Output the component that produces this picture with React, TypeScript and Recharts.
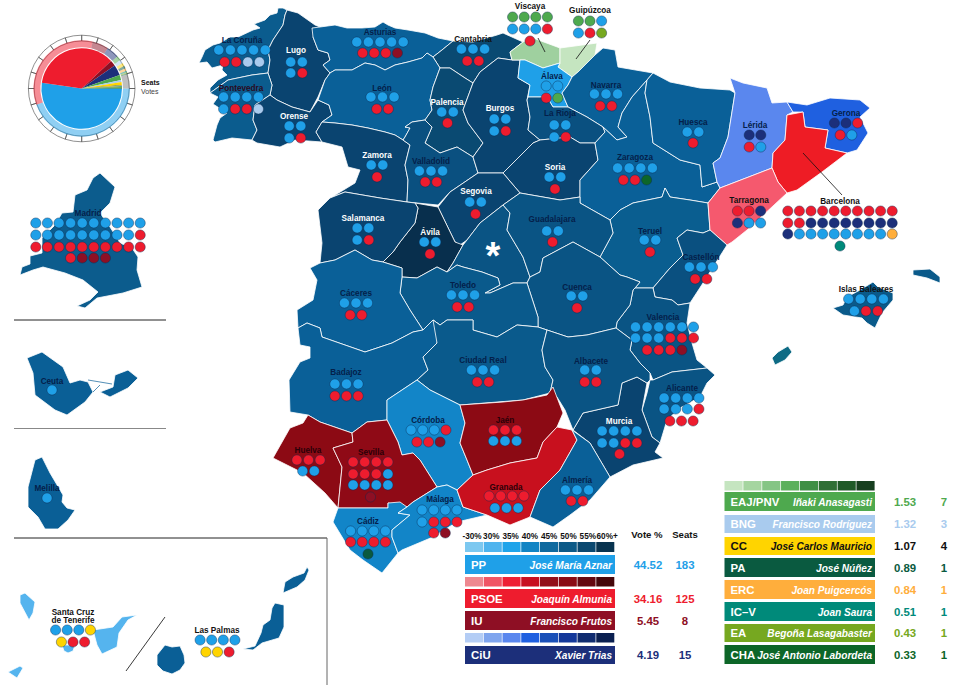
import React from "react";
import { ScatterChart, Scatter, XAxis, YAxis, PieChart, Pie, Cell } from "recharts";

const W = 960;
const H = 698;
const FONT = "'Liberation Sans', Arial, sans-serif";

// ---- parties ----
const partyCodes = ["PP", "PSOE", "IU", "CiU", "EAJ/PNV", "BNG", "CC", "PA", "ERC", "IC–V", "EA", "CHA"];
const partyLeaders = ["José María Aznar", "Joaquín Almunia", "Francisco Frutos", "Xavier Trias", "Iñaki Anasagasti", "Francisco Rodríguez", "José Carlos Mauricio", "José Núñez", "Joan Puigcercós", "Joan Saura", "Begoña Lasagabaster", "José Antonio Labordeta"];
const partyVotes = [44.52, 34.16, 5.45, 4.19, 1.53, 1.32, 1.07, 0.89, 0.84, 0.51, 0.43, 0.33];
const partySeats = [183, 125, 8, 15, 7, 3, 4, 1, 1, 1, 1, 1];
const partyColors = ["#1fa0e8", "#ee1c2e", "#8e0f24", "#1c2f7a", "#4ea94e", "#a9cbee", "#ffd400", "#0a5a40", "#ffae3c", "#008a7a", "#76a820", "#0d6628"];
const otherVotes = 4.76;
const tickSlices = [1, 1, 1, 1, 1, 1, 1, 1, 1, 1, 1, 1, 1, 1, 1, 1, 1, 1, 1, 1];

const rampLabels = ["-30%", "30%", "35%", "40%", "45%", "50%", "55%", "60%+"];
const rampPP = ["#7cc8f0", "#4fb4ee", "#1fa4ea", "#1184c4", "#0f6a9f", "#0c5a88", "#0a4870", "#08334f"];
const rampPSOE = ["#ee8890", "#f05565", "#ee2035", "#c80f20", "#930f1a", "#8a0a14", "#650810", "#45060a"];
const rampCiU = ["#b4cdf5", "#7fa5ee", "#5a87ee", "#1f60e0", "#1a50b8", "#14389a", "#102c70", "#0a1f50"];
const rampEAJ = ["#c5e5c0", "#a5d5a0", "#85c585", "#5cb05c", "#3f8f45", "#2f6f35", "#1f5a28", "#173f1f"];

// ---- provinces: name, fill, outline in map units ----
type Prov = [string, string, string];
const galicia: Prov[] = [
  ["La Coruña", "#0b5c8e", "287,10 283,8 278,8 277,13 270,15 265,20 254,24 260,28 253,30 238,37 230,37 220,43 213,45 205,50 202,57 199,63 207,62 212,68 223,65 222,70 227,75 218,80 210,88 210,93 228,80 252,75 268,73 270,60 268,50 273,40 283,25 285,15"],
  ["Lugo", "#0a4470", "287,10 298,13 315,25 320,27 313,37 318,50 328,53 330,60 323,65 330,73 325,80 318,97 310,112 292,107 277,100 270,95 272,85 268,73 270,60 268,50 273,40 283,25 285,15"],
  ["Pontevedra", "#0b5c8e", "210,93 228,80 252,75 268,73 272,85 270,95 255,105 253,120 257,130 252,140 232,138 215,142 213,140 217,125 220,118 227,113 213,104 218,97"],
  ["Orense", "#0a4470", "270,95 277,100 292,107 310,112 318,100 329,105 332,115 322,122 316,132 322,142 295,140 280,147 257,143 252,140 257,130 253,120 255,105"],
];
const north: Prov[] = [
  ["Asturias", "#0a6098", "312,28 320,27 335,25 347,28 362,28 375,27 383,22 388,25 395,28 408,30 425,33 438,38 453,41 442,50 433,57 427,53 422,58 408,62 395,65 385,70 375,65 365,63 352,70 335,70 330,73 323,65 330,60 328,53 318,50 313,37"],
  ["Cantabria", "#0a4a72", "453,41 473,42 497,35 503,33 523,42 510,52 512,60 498,58 480,72 473,83 465,78 450,68 440,68 433,57 442,50"],
  ["León", "#0a6098", "330,73 335,70 352,70 365,63 375,65 385,70 395,65 408,62 422,58 427,53 433,57 440,68 433,87 430,100 432,110 425,120 412,122 405,127 410,128 405,137 403,140 395,135 385,132 368,128 352,125 335,123 322,122 332,115 329,105 318,100 325,80"],
  ["Palencia", "#0a4a72", "440,68 450,68 465,78 473,83 463,110 468,123 483,143 473,157 457,147 440,153 425,143 432,127 425,120 432,110 430,100 433,87"],
  ["Zamora", "#0a4470", "322,122 335,123 352,125 368,128 385,132 395,135 403,140 410,145 405,165 408,180 407,202 380,198 345,192 332,197 355,183 360,170 348,167 342,147 322,142 316,132"],
  ["Valladolid", "#0a5080", "412,122 425,120 432,127 425,143 440,153 457,147 473,157 478,173 453,190 450,192 438,205 417,203 407,202 408,180 405,165 410,145 403,140 405,137 410,128 405,127"],
  ["Burgos", "#0a4470", "480,72 498,58 512,60 520,60 518,78 530,85 527,100 530,117 528,130 540,140 533,143 503,173 478,173 473,157 483,143 468,123 463,110 473,83"],
  ["Vizcaya", "#9fd09f", "510,52 523,42 533,38 560,48 560,63 543,68 525,60 512,60"],
  ["Guipúzcoa", "#c5e5c0", "560,48 597,43 595,55 578,72 572,77 558,67 560,63"],
  ["Álava", "#1fa0e8", "525,60 543,68 560,63 558,67 572,77 568,85 562,93 568,107 553,107 547,97 528,97 530,85 518,78 520,60"],
  ["Navarra", "#0a6098", "572,77 578,72 595,55 603,48 615,50 618,67 653,73 647,80 632,97 622,113 618,127 627,137 617,140 603,127 587,117 568,107 562,93 568,85"],
  ["La Rioja", "#0a5080", "528,97 547,97 553,107 568,107 587,117 603,127 605,132 595,143 580,143 570,137 540,140 528,130 530,117 527,100"],
  ["Soria", "#0a4470", "540,140 570,137 580,143 595,143 598,160 580,180 580,197 560,200 520,193 503,173 533,143"],
  ["Segovia", "#0a4470", "450,192 453,190 478,173 503,173 520,193 503,205 480,223 467,240 460,245 455,242 438,207"],
  ["Ávila", "#082f4d", "415,203 438,207 455,242 463,245 453,263 447,272 437,267 417,278 402,277 402,268 383,262 393,252 400,242 415,223 418,208"],
  ["Salamanca", "#0a4470", "345,192 380,198 407,202 415,203 418,208 415,223 400,242 393,252 383,262 372,260 355,250 335,260 320,263 322,243 318,210 330,198"],
];
const east: Prov[] = [
  ["Zaragoza", "#0a6098", "603,127 617,140 627,137 618,127 622,113 632,97 647,80 645,93 650,117 653,143 680,160 700,165 702,187 717,182 720,188 708,203 690,200 670,197 665,188 662,197 633,203 620,210 610,220 580,203 580,180 598,160 595,143 605,132"],
  ["Huesca", "#0a6098", "647,80 653,73 670,82 700,88 730,90 735,93 728,137 720,158 713,163 717,182 702,187 700,165 680,160 653,143 650,117 645,93"],
  ["Teruel", "#0a5e90", "610,220 620,210 633,203 662,197 665,188 670,197 690,200 708,203 710,230 703,233 687,230 677,238 683,255 670,268 653,288 635,288 640,282 627,277 620,275 600,257 613,233"],
  ["Lérida", "#5a87ee", "730,78 743,83 767,88 772,103 787,102 793,112 787,115 785,140 773,153 772,168 720,188 717,182 713,163 720,158 728,137 735,93"],
  ["Gerona", "#1f60e0", "787,102 807,105 830,98 860,100 870,108 860,117 868,133 857,150 847,153 825,148 828,130 805,127 803,112 793,112"],
  ["Barcelona", "#ee1c25", "787,115 803,112 805,127 828,130 825,148 847,153 822,172 797,190 787,193 778,182 772,168 773,153 785,140"],
  ["Tarragona", "#f5596e", "720,188 772,168 778,182 787,193 747,230 732,242 727,245 710,230 708,203"],
  ["Castellón", "#0a5080", "677,238 687,230 703,233 710,230 727,245 703,283 690,303 678,305 672,300 655,297 653,288 670,268 683,255"],
  ["Valencia", "#0a5484", "635,288 653,288 655,297 672,300 678,305 690,303 687,323 692,343 697,360 707,368 672,372 653,380 650,373 640,363 630,350 632,340 616,328 617,322 630,305 633,290"],
  ["Alicante", "#0a5484", "707,368 715,375 707,383 700,397 680,408 667,420 660,443 652,437 642,410 647,393 650,380 653,380 672,372"],
  ["Murcia", "#0a4470", "622,383 637,377 647,383 642,410 652,437 660,443 655,452 663,458 633,465 610,477 590,443 573,430 583,413 618,405"],
];
const centre: Prov[] = [
  ["Madrid", "#0a5484", "503,205 510,213 507,230 523,257 530,277 527,283 513,283 490,293 485,293 500,285 498,278 482,272 463,267 457,265 447,272 453,263 463,245 467,240 480,223"],
  ["Guadalajara", "#0a5484", "503,205 520,193 560,200 580,197 580,203 610,220 613,233 600,257 573,242 558,250 543,258 540,272 530,277 523,257 507,230 510,213"],
  ["Cuenca", "#0a5484", "530,277 540,272 543,258 558,250 573,242 600,257 620,275 627,277 640,282 635,288 633,290 630,305 617,322 616,328 587,335 568,337 547,330 538,327 538,317 527,283"],
  ["Toledo", "#0a5a8c", "402,277 417,278 437,267 447,272 457,265 463,267 482,272 498,278 500,285 485,293 490,293 513,283 527,283 538,317 538,327 517,325 497,337 473,330 473,320 447,320 440,325 433,320 423,330 410,310 400,293"],
  ["Cáceres", "#0a6098", "310,268 320,263 335,260 355,250 372,260 383,262 402,268 402,277 400,293 410,310 423,330 413,332 392,343 365,352 322,337 320,328 307,323 298,328 297,310 313,300 317,280"],
  ["Badajoz", "#0a6098", "298,328 307,323 320,328 322,337 365,352 392,343 413,332 423,330 433,320 440,325 437,343 423,357 428,370 417,380 387,400 387,420 367,422 352,433 320,422 308,415 290,412 289,380 300,362 310,358 310,347 300,345"],
  ["Ciudad Real", "#0a5a8c", "433,320 440,325 447,320 473,320 473,330 497,337 517,325 538,327 547,330 542,350 545,367 553,380 550,393 523,400 460,405 430,390 417,380 428,370 423,357 437,343"],
  ["Albacete", "#0a5484", "547,330 568,337 587,335 616,328 632,340 630,350 640,363 650,373 650,380 647,383 637,377 622,383 618,405 583,413 573,430 565,410 557,397 550,393 553,380 545,367 542,350"],
];
const south: Prov[] = [
  ["Córdoba", "#1285c8", "417,380 430,390 460,405 465,423 460,443 467,460 473,475 457,490 447,485 437,487 420,460 413,453 402,455 398,442 392,430 387,420 387,400"],
  ["Jaén", "#8c0a14", "460,405 503,402 523,400 547,395 553,387 563,413 557,427 543,442 537,458 510,463 487,470 473,475 467,460 460,443 465,423"],
  ["Huelva", "#8c0a14", "308,415 320,422 352,433 353,442 333,448 342,467 338,508 325,493 303,473 273,458 290,428 303,423"],
  ["Sevilla", "#8f0a16", "352,433 367,422 387,420 392,430 398,442 402,455 413,453 420,460 437,487 413,502 407,507 388,503 388,508 338,508 342,467 333,448 353,442"],
  ["Cádiz", "#1285c8", "338,508 388,508 388,503 400,502 407,507 398,513 410,515 392,530 392,537 398,553 382,573 363,560 350,550 333,522"],
  ["Málaga", "#1285c8", "437,487 447,485 457,490 463,507 487,515 457,522 433,537 402,550 398,553 392,537 392,530 410,515 398,513 407,507 413,502"],
  ["Granada", "#c8101e", "473,475 487,470 510,463 537,458 543,442 557,427 572,430 577,440 560,470 540,490 530,517 510,525 487,515 463,507 457,490"],
  ["Almería", "#0a6098", "577,440 572,430 590,443 610,477 590,500 570,515 553,527 530,517 540,490 560,470"],
];
const insets: Prov[] = [
  ["Madrid inset", "#0c5c8d", "100,173 115,187 110,203 100,213 110,227 120,243 132,248 138,257 137,270 142,287 123,293 97,298 85,308 77,306 90,300 98,292 83,280 65,273 43,267 33,270 20,275 22,267 30,264 30,256 42,253 42,238 55,225 62,213 73,212 75,195 87,190 93,178"],
  ["Ceuta", "#0a5f96", "27,358 42,352 63,367 70,383 80,380 88,382 93,392 85,402 67,415 55,410 35,395 33,373"],
  ["Ceuta east", "#0a5f96", "115,375 128,370 138,378 128,388 110,397 100,392 113,387"],
  ["Melilla", "#0a5f96", "42,457 50,473 63,495 62,502 67,508 75,510 68,520 58,529 45,529 38,517 28,507 28,487 35,460"],
  ["La Palma", "#55b4ee", "20,595 25,593 35,602 33,613 29,620 20,603"],
  ["El Hierro", "#55b4ee", "8,672 20,666 23,668 17,678"],
  ["La Gomera", "#55b4ee", "62,645 75,645 73,651 68,653 64,651"],
  ["Tenerife", "#55b4ee", "93,630 113,627 122,617 137,615 128,620 119,633 117,647 102,654 97,645"],
  ["Gran Canaria", "#0a5f96", "165,645 172,647 180,646 184,655 185,663 180,670 172,674 163,671 157,665 157,655"],
  ["Fuerteventura", "#0a5f96", "275,603 284,605 284,627 279,638 262,643 253,650 243,649 255,646 261,633 263,625 270,620 272,608"],
  ["Lanzarote", "#0a5f96", "307,567 309,570 305,580 297,587 283,593 285,582 293,577 304,573"],
  ["Mallorca", "#0a5a8a", "833,308 843,305 847,297 860,290 873,282 878,287 893,293 893,300 882,313 875,328 867,323 862,318 843,315"],
  ["Menorca", "#0a5a8a", "913,270 930,269 940,277 940,283 927,278 913,275"],
  ["Ibiza", "#0e6b85", "778,352 788,346 792,352 785,360 775,365 772,358"],
];

// ---- province labels: text, x, y, colour ----
const DK = "#04204a";
const WH = "#ffffff";
const BK = "#111111";
const provinceLabels: [string, number, number, string][] = [
  ["La Coruña", 242, 40, DK], ["Lugo", 296, 50, WH], ["Pontevedra", 241, 88, "#2a0a20"], ["Orense", 294, 116, WH],
  ["Asturias", 380, 32, DK], ["León", 382, 88, DK], ["Zamora", 377, 155, WH], ["Valladolid", 431, 161, DK],
  ["Palencia", 447, 102, WH], ["Cantabria", 473, 39, BK], ["Burgos", 500, 108, WH], ["Viscaya", 530, 6, BK],
  ["Guipúzcoa", 590, 10, BK], ["Álava", 552, 76, DK], ["La Rioja", 560, 113, DK], ["Navarra", 606, 85, DK],
  ["Soria", 555, 167, WH], ["Zaragoza", 635, 157, DK], ["Huesca", 693, 122, DK], ["Lérida", 755, 125, DK],
  ["Gerona", 846, 113, DK], ["Tarragona", 749, 200, BK], ["Barcelona", 840, 201, BK], ["Islas Baleares", 866, 289, BK],
  ["Segovia", 476, 191, WH], ["Salamanca", 363, 218, WH], ["Ávila", 430, 232, WH], ["Guadalajara", 552, 219, DK],
  ["Cáceres", 356, 293, DK], ["Toledo", 463, 285, DK], ["Ciudad Real", 483, 360, DK], ["Badajoz", 346, 372, DK],
  ["Teruel", 650, 231, DK], ["Castellón", 701, 257, DK], ["Cuenca", 577, 287, DK], ["Valencia", 663, 317, DK],
  ["Albacete", 591, 361, DK], ["Alicante", 682, 388, DK], ["Murcia", 619, 421, WH], ["Córdoba", 428, 420, DK],
  ["Jaén", 505, 420, "#2a0008"], ["Huelva", 308, 450, "#2a0008"], ["Sevilla", 371, 452, "#2a0008"], ["Granada", 506, 487, "#2a0008"],
  ["Almería", 577, 480, DK], ["Málaga", 440, 499, DK], ["Cádiz", 368, 521, DK], ["Madrid", 88, 213, DK],
  ["Ceuta", 52, 381, DK], ["Melilla", 47, 488, DK], ["Santa Cruz", 73, 612, BK], ["de Tenerife", 73, 620, BK], ["Las Palmas", 217, 630, BK],
];

// ---- seats: centre x, y, parties by index (0 PP, 1 PSOE, 2 IU, 3 CiU, 4 EAJ, 5 BNG, 6 CC, 7 PA, 8 ERC, 9 IC-V, 10 EA, 11 CHA) ----
const seatRows: [number, number, number[]][] = [
  [242, 50, [0, 0, 0, 0, 0]], [242, 62, [1, 1, 5, 5]],
  [296.5, 62, [0, 0]], [296.5, 73, [0, 1]],
  [241, 97, [0, 0, 0, 0]], [241, 109, [0, 1, 1, 5]],
  [295, 126, [0, 0]], [295, 138, [0, 1]],
  [380, 42, [0, 0, 0, 0, 0]], [380, 53, [1, 1, 1, 2]],
  [382.5, 97, [0, 0, 0]], [382.5, 109, [1, 1]],
  [377, 165, [0, 0]], [377, 177, [1]],
  [431, 171, [0, 0, 0]], [431, 182, [1, 1]],
  [447.5, 112, [0, 0]], [447.5, 123, [1]],
  [473, 49, [0, 0, 0]], [473, 61, [1, 1]],
  [500, 119, [0, 0]], [500, 131, [0, 1]],
  [530, 17, [4, 4, 4, 4]], [530, 29, [0, 0, 0, 1]], [530, 41, [1]],
  [590, 21, [4, 4, 0]], [590, 33, [0, 1, 10]],
  [552, 86, [0, 0]], [552, 98, [1, 4]],
  [560, 125, [0, 0]], [560, 137, [0, 1]],
  [606, 94, [0, 0, 0]], [606, 106, [1, 1]],
  [555, 177, [0, 0]], [555, 189, [1]],
  [635, 168, [0, 0, 0, 0]], [635, 180, [1, 1, 11]],
  [693, 132, [0, 0]], [693, 143, [1]],
  [755, 135, [3, 3]], [755, 147, [1, 0]],
  [846, 123, [3, 3, 1]], [846, 135, [1, 0]],
  [749, 211, [1, 1, 3]], [749, 223, [3, 0, 0]],
  [840, 211, [1, 1, 1, 1, 1, 1, 1, 1, 1, 1]], [840, 223, [1, 1, 3, 3, 3, 3, 3, 3, 3, 3]], [840, 234, [3, 0, 0, 0, 0, 0, 0, 0, 0, 8]], [840, 246, [9]],
  [866, 299, [0, 0, 0, 0]], [866, 311, [0, 1, 1]],
  [475.5, 202, [0, 0]], [475.5, 214, [1]],
  [363, 228, [0, 0]], [363, 240, [0, 1]],
  [430, 242, [0, 0]], [430, 254, [1]],
  [552.5, 231, [0, 0]], [552.5, 242, [1]],
  [356, 303, [0, 0, 0]], [356, 315, [1, 1]],
  [463, 295, [0, 0, 0]], [463, 307, [1, 1]],
  [483, 370, [0, 0, 0]], [483, 382, [1, 1]],
  [346.5, 384, [0, 0, 0]], [346.5, 396, [1, 1, 1]],
  [650, 240, [0, 0]], [650, 252, [1]],
  [701, 267, [0, 0, 0]], [701, 279, [1, 1]],
  [577, 296, [0, 0]], [577, 308, [1]],
  [664.5, 327, [0, 0, 0, 0, 0, 0]], [664.5, 338, [0, 0, 0, 1, 1, 1]], [664.5, 350, [1, 1, 1, 2]],
  [590.5, 370, [0, 0]], [590.5, 382, [1, 1]],
  [681.5, 398, [0, 0, 0, 0]], [681.5, 409, [0, 0, 0, 1]], [681.5, 421, [1, 1, 1]],
  [619.5, 431, [0, 0, 0, 0]], [619.5, 443, [0, 0, 1, 1]], [619.5, 454, [1]],
  [428.5, 430, [0, 0, 0, 1]], [428.5, 442, [1, 1, 2]],
  [505, 430, [1, 1, 1]], [505, 441, [0, 0, 0]],
  [308.5, 460, [1, 1, 1]], [308.5, 471, [0, 0]],
  [370.5, 462, [1, 1, 1, 1]], [370.5, 474, [1, 1, 1, 0]], [370.5, 485, [0, 0, 0, 0]], [370.5, 497, [2]],
  [506.5, 496, [1, 1, 1, 1]], [506.5, 508, [0, 0, 0]],
  [577, 490, [0, 0, 0]], [577, 501, [1, 1]],
  [439.5, 510, [0, 0, 0, 0]], [439.5, 522, [0, 1, 1, 1]], [439.5, 533, [1, 2]],
  [368, 531, [0, 0, 0, 0]], [368, 542, [1, 1, 1, 1]], [368, 554, [7]],
  [88, 223, [0, 0, 0, 0, 0, 0, 0, 0, 0, 0]], [88, 235, [0, 0, 0, 0, 0, 0, 0, 0, 0, 1]], [88, 247, [1, 1, 1, 1, 1, 1, 1, 1, 1, 1]], [88, 258, [1, 2, 2, 2]],
  [52, 390, [0]], [47, 498, [0]],
  [73, 630, [0, 0, 0, 6]], [73, 642, [6, 1, 1]],
  [217.5, 640, [0, 0, 0, 0]], [217.5, 652, [6, 6, 1]],
];
const seatStep = 11.6;

// ---- connector and frame lines ----
const rules: [number, number, number, number, string, number][] = [
  [538, 38, 545, 52, "#111", 0.8], [590, 40, 576, 59, "#111", 0.8], [803, 153, 842, 195, "#111", 0.8],
  [14, 320, 166, 320, "#222", 1], [14, 428.5, 166, 428.5, "#888", 1.2],
  [14, 538, 327, 538, "#222", 1], [327, 538, 327, 685, "#666", 1], [126, 671, 165, 617, "#222", 0.9],
  [88, 380, 112, 384, "#0a5f96", 0.7], [93, 392, 100, 385, "#0a5f96", 0.7],
];

// ---- legend layout rows ----
const leftBars: [number, number, number][] = [[0, 555, 574], [1, 589, 608], [2, 611, 630], [3, 646, 664]];
const rightBars: [number, number, number][] = [[4, 492, 511], [5, 515, 533], [6, 537, 555], [7, 558, 577], [8, 580, 599], [9, 602, 621], [10, 624, 642], [11, 645, 664]];

// ---- chart rows built from the arrays above ----
const parse = (s: string) => s.split(" ").map((p) => p.split(",").map(Number));
const polygons = [...galicia, ...north, ...east, ...centre, ...south, ...insets].map(([name, fill, o]) => {
  const outline = parse(o);
  return { name, fill, outline, x: outline[0][0], y: outline[0][1] };
});
const ruleRows = rules.map(([x, y, x2, y2, color, w]) => ({ x, y, x2, y2, color, w }));
const dots = seatRows.flatMap(([cx, y, ps]) => ps.map((p, i) => ({ x: cx + (i - (ps.length - 1) / 2) * seatStep, y, color: partyColors[p] })));

const cells: { x: number; y: number; w: number; h: number; fill: string }[] = [];
const ramp = (colors: string[], x0: number, step: number, y: number, h: number) =>
  colors.forEach((fill, i) => cells.push({ x: x0 + i * step, y, w: step - 0.7, h, fill }));
ramp(rampPP, 465, 18.75, 542, 10);
ramp(rampPSOE, 465, 18.75, 577, 9.5);
ramp(rampCiU, 465, 18.75, 633, 9.5);
ramp(rampEAJ, 724.5, 18.85, 481, 9.5);
leftBars.forEach(([p, a, b]) => cells.push({ x: 465, y: a, w: 150, h: b - a, fill: partyColors[p] }));
rightBars.forEach(([p, a, b]) => cells.push({ x: 724.5, y: a, w: 150.5, h: b - a, fill: partyColors[p] }));

type T = { x: number; y: number; text: string; fill: string; size: number; anchor?: string; italic?: boolean; weight?: string; sx?: number };
const texts: T[] = [];
provinceLabels.forEach(([text, x, y, fill]) => texts.push({ x, y, text, fill, size: 8.2 }));
rampLabels.forEach((text, i) => texts.push({ x: 472 + i * 19.3, y: 536, text, fill: "#111", size: 8.2 }));
texts.push({ x: 647, y: 534, text: "Vote %", fill: "#111", size: 9.6 }, { x: 685, y: 534, text: "Seats", fill: "#111", size: 9.6 });
texts.push({ x: 141, y: 82, text: "Seats", fill: "#111", size: 7, anchor: "start" });
texts.push({ x: 141, y: 91.5, text: "Votes", fill: "#444", size: 7, anchor: "start", weight: "normal" });
const barTexts = (rows: [number, number, number][], left: number, right: number, vx: number, sx: number) =>
  rows.forEach(([p, a, b]) => {
    const y = (a + b) / 2;
    const ink = p === 6 ? "#111" : "#ffffff";
    const num = p === 6 ? "#111" : partyColors[p];
    texts.push({ x: left + 6, y, text: partyCodes[p], fill: ink, size: 11.4, anchor: "start" });
    texts.push({ x: right - 3, y, text: partyLeaders[p], fill: ink, size: 11.2, anchor: "end", italic: true, sx: 0.9 });
    texts.push({ x: vx, y, text: partyVotes[p].toFixed(2), fill: num, size: 11.4 });
    texts.push({ x: sx, y, text: String(partySeats[p]), fill: num, size: 11.4 });
  });
barTexts(leftBars, 465, 615, 648, 685);
barTexts(rightBars, 724.5, 875, 905, 944);
texts.push({ x: 493, y: 256, text: "*", fill: "#fff", size: 38 });

// ---- pie data ----
const seatSlices = partyCodes.map((name, i) => ({ name, value: partySeats[i], fill: partyColors[i] }));
const voteSlices = [
  ...partyCodes.map((name, i) => ({ name, value: partyVotes[i], fill: partyColors[i] })),
  { name: "Others", value: otherVotes, fill: "#808080" },
];
const tickData = tickSlices.map((value) => ({ value }));

// ---- shapes ----
const PolygonShape = (p: any) => {
  const { outline, fill } = p.payload;
  const dx = p.cx - outline[0][0];
  const dy = p.cy - outline[0][1];
  return <polygon points={outline.map((q: number[]) => `${q[0] + dx},${q[1] + dy}`).join(" ")} fill={fill} stroke="#fff" strokeWidth={0.8} strokeLinejoin="round" />;
};
const RuleShape = (p: any) => {
  const d = p.payload;
  return <line x1={p.cx} y1={p.cy} x2={p.cx + d.x2 - d.x} y2={p.cy + d.y2 - d.y} stroke={d.color} strokeWidth={d.w} />;
};
const DotShape = (p: any) => <circle cx={p.cx} cy={p.cy} r={5.1} fill={p.payload.color} stroke="#0b2a50" strokeOpacity={0.7} strokeWidth={0.6} />;
const CellShape = (p: any) => {
  const d = p.payload;
  return <rect x={p.cx} y={p.cy} width={d.w} height={d.h} fill={d.fill} />;
};
const TextShape = (p: any) => {
  const d: T = p.payload;
  return (
    <text transform={`translate(${p.cx} ${p.cy}) scale(${d.sx ?? 1} 1)`} textAnchor={d.anchor ?? "middle"} dominantBaseline="central" fontFamily={FONT} fontSize={d.size} fontWeight={d.weight ?? "bold"} fontStyle={d.italic ? "italic" : "normal"} fill={d.fill}>
      {d.text}
    </text>
  );
};

export default function App() {
  return (
    <div style={{ position: "absolute", left: 0, top: 0, width: W, height: H, background: "#fff", overflow: "hidden" }}>
      <div style={{ position: "absolute", left: 0, top: 0 }}>
        <ScatterChart width={W} height={H} margin={{ top: 0, right: 0, bottom: 0, left: 0 }}>
          <XAxis type="number" dataKey="x" domain={[0, W]} hide allowDataOverflow />
          <YAxis type="number" dataKey="y" domain={[0, H]} reversed hide allowDataOverflow />
          <Scatter data={polygons} shape={PolygonShape} isAnimationActive={false} />
          <Scatter data={cells} shape={CellShape} isAnimationActive={false} />
          <Scatter data={ruleRows} shape={RuleShape} isAnimationActive={false} />
          <Scatter data={dots} shape={DotShape} isAnimationActive={false} />
          <Scatter data={texts} shape={TextShape} isAnimationActive={false} />
        </ScatterChart>
      </div>
      <div style={{ position: "absolute", left: 0, top: 0 }}>
        <PieChart width={170} height={150} margin={{ top: 0, right: 0, bottom: 0, left: 0 }}>
          <Pie data={tickData} dataKey="value" cx={81.7} cy={88.5} innerRadius={47.5} outerRadius={53.3} startAngle={0} endAngle={-360} fill="none" stroke="#444" strokeWidth={0.6} isAnimationActive={false} />
          <Pie data={voteSlices} dataKey="value" cx={81.7} cy={88.5} innerRadius={41.3} outerRadius={48.3} startAngle={0} endAngle={-360} stroke="none" isAnimationActive={false}>
            {voteSlices.map((d) => <Cell key={d.name} fill={d.fill} fillOpacity={0.5} />)}
          </Pie>
          <Pie data={seatSlices} dataKey="value" cx={81.7} cy={88.5} innerRadius={0} outerRadius={40.3} startAngle={0} endAngle={-360} stroke="none" isAnimationActive={false}>
            {seatSlices.map((d) => <Cell key={d.name} fill={d.fill} />)}
          </Pie>
        </PieChart>
      </div>
    </div>
  );
}
